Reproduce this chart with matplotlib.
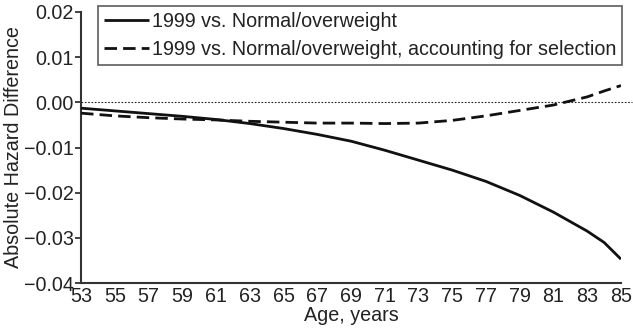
import matplotlib
matplotlib.use("Agg")
import matplotlib.pyplot as plt

plt.rcParams['font.family'] = ['Liberation Sans', 'DejaVu Sans']

ages = [53, 55, 57, 59, 61, 63, 65, 67, 69, 71, 73, 75, 77, 79, 81, 83, 84, 85]
solid = [-0.0013, -0.0019, -0.0025, -0.0031, -0.0038, -0.0047, -0.0058, -0.0071,
         -0.0086, -0.0106, -0.0128, -0.0150, -0.0175, -0.0206, -0.0243, -0.0285,
         -0.0310, -0.0347]
dashed = [-0.0024, -0.0030, -0.0034, -0.0037, -0.0039, -0.0042, -0.0044, -0.0046,
          -0.0046, -0.0047, -0.0046, -0.0040, -0.0030, -0.0018, -0.0006, 0.0012,
          0.0025, 0.0037]
xticks = list(range(53, 86, 2))
yticks = [-0.04, -0.03, -0.02, -0.01, 0.00, 0.01, 0.02]
ytick_labels = ['\u22120.04', '\u22120.03', '\u22120.02', '\u22120.01', '0.00', '0.01', '0.02']

FS = 14.2

fig = plt.figure(figsize=(6.33, 3.30), dpi=100)
ax = fig.add_axes([0.128, 0.142, 0.853, 0.822])

ax.plot([0, 1.02], [0, 0], transform=ax.get_yaxis_transform(), color='#222222',
        lw=0.8, linestyle=(0, (1.5, 1.5)), clip_on=False, zorder=1)
ax.plot(ages, solid, color='#111111', lw=2.0, solid_capstyle='butt',
        label='1999 vs. Normal/overweight', zorder=3)
ax.plot(ages, dashed, color='#111111', lw=2.0, linestyle=(0, (4.5, 2.2)),
        label='1999 vs. Normal/overweight, accounting for selection', zorder=3)

ax.set_xlim(53, 85)
ax.set_ylim(-0.04, 0.02)
ax.set_xticks(xticks)
ax.set_xticklabels([str(t) for t in xticks])
ax.set_yticks(yticks)
ax.set_yticklabels(ytick_labels)
ax.tick_params(axis='x', length=0, pad=3, labelsize=FS, colors='#222222')
ax.tick_params(axis='y', length=4, width=1.2, pad=1, labelsize=FS, colors='#222222')

for s in ['top', 'right']:
    ax.spines[s].set_visible(False)
for s in ['left', 'bottom']:
    ax.spines[s].set_linewidth(1.5)
    ax.spines[s].set_color('#333333')

ax.set_xlabel('Age, years', fontsize=FS, color='#222222', labelpad=0)
ax.set_ylabel('Absolute Hazard Difference', fontsize=FS, color='#222222', labelpad=1)

leg = ax.legend(loc='upper left', bbox_to_anchor=(0.031, 1.02), fontsize=FS,
                frameon=True, fancybox=False, handlelength=2.3, handletextpad=0.15,
                borderpad=0.3, labelspacing=0.42, borderaxespad=0)
leg.get_frame().set_edgecolor('#333333')
leg.get_frame().set_linewidth(1.2)
for t in leg.get_texts():
    t.set_color('#222222')

fig.savefig('out.png', dpi=100)
